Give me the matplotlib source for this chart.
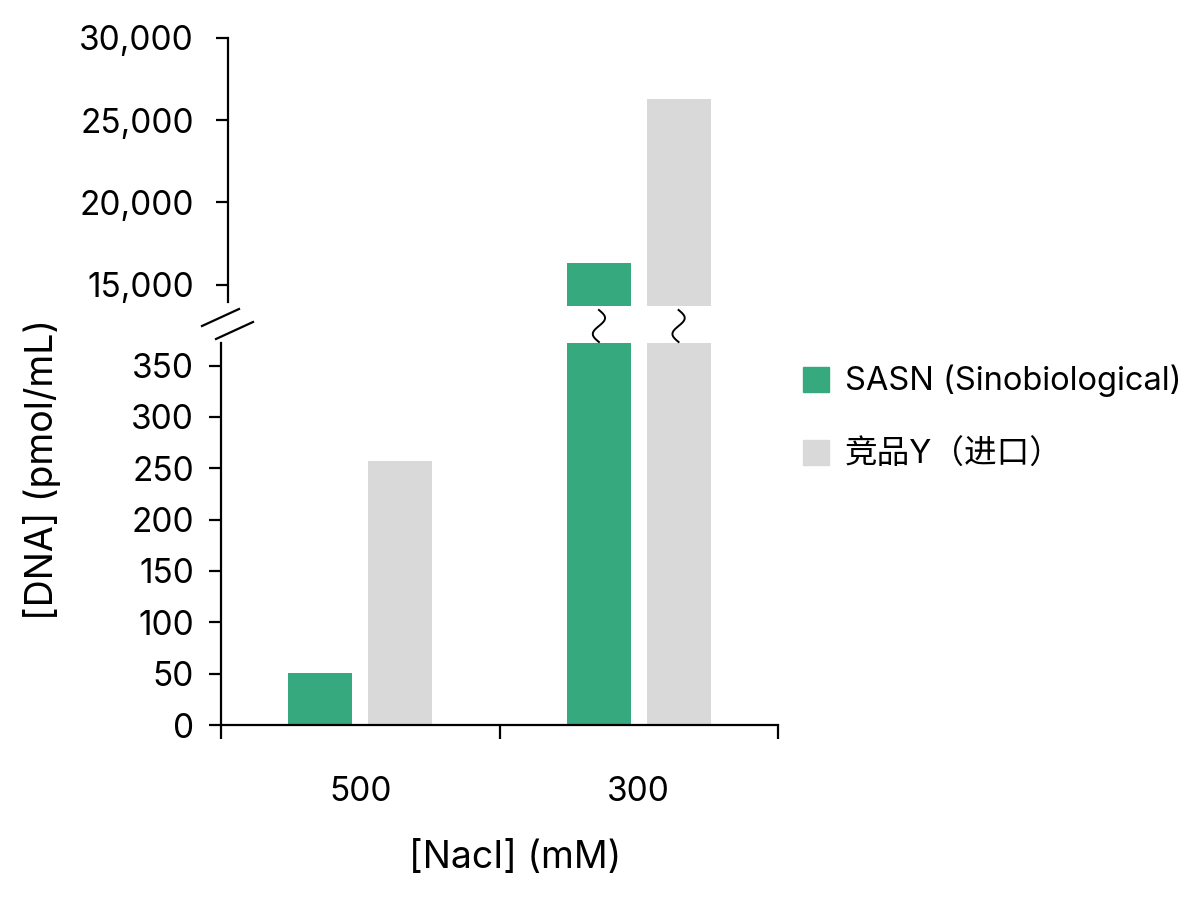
import numpy as np
import matplotlib.pyplot as plt
from matplotlib.lines import Line2D
from matplotlib.patches import Patch
import matplotlib.transforms as mtransforms
from matplotlib.ticker import FuncFormatter

plt.rcParams['font.family'] = ['Inter', 'Noto Sans CJK SC', 'DejaVu Sans']

# data
groups = ['500', '300']
series = ['SASN (Sinobiological)', '竞品Y（进口）']
sasn = [51, 16300]
rival = [257, 26300]
colors = ['#36AA7E', '#D9D9D9']

W, H = 1200, 906
fig = plt.figure(figsize=(12, 9.06), dpi=100)

def box(l, t, r, b):
    return [l / W, 1 - b / H, (r - l) / W, (b - t) / H]

lo = fig.add_axes(box(221, 343, 778, 725))
hi = fig.add_axes(box(228, 38, 778, 306))

centers = np.array([0.5, 1.5])
off = 0.143
bw = 0.23
fs = 24
for ax in (lo, hi):
    ax.bar(centers - off, sasn, bw, color=colors[0])
    ax.bar(centers + off, rival, bw, color=colors[1])
    for s in ['top', 'right']:
        ax.spines[s].set_visible(False)
    ax.spines['left'].set_linewidth(1.6)
    ax.tick_params(axis='y', labelsize=fs, length=8.5, width=1.6)

lo.set_xlim(0, 2)
lo.set_ylim(0, 372)
lo.set_yticks(np.arange(0, 351, 50))
lo.tick_params(axis='y', pad=11)
lo.spines['bottom'].set_linewidth(1.6)
lo.set_xticks([0, 1, 2])
lo.set_xticklabels([])
lo.tick_params(axis='x', which='major', length=10, width=1.6)
lo.set_xticks(centers, minor=True)
lo.set_xticklabels(groups, minor=True)
lo.tick_params(axis='x', which='minor', length=0, pad=37, labelsize=fs)
lo.set_xlabel('[NacI] (mM)', fontsize=27)
lo.xaxis.set_label_coords(0.528, -0.3)

hi.set_xlim(0.0251, 2)
hi.set_ylim(13700, 30000)
hi.set_yticks([15000, 20000, 25000, 30000])
hi.yaxis.set_major_formatter(FuncFormatter(lambda v, p: f'{int(v):,}'))
hi.tick_params(axis='y', pad=16)
hi.spines['left'].set_bounds(13950, 30000)
hi.spines['bottom'].set_visible(False)
hi.set_xticks([])
hi.patch.set_alpha(0)

fig.text(42 / W, 1 - 469 / H, '[DNA] (pmol/mL)', rotation=90, fontsize=27,
         ha='center', va='center')

# break marks on the axis
for (x0, y0, x1, y1) in [(202, 326, 239, 309), (216, 339, 253, 322)]:
    fig.add_artist(Line2D([x0 / W, x1 / W], [1 - y0 / H, 1 - y1 / H],
                          color='black', lw=1.6, transform=fig.transFigure))

# wavy marks between split bars
trans = mtransforms.blended_transform_factory(lo.transData, fig.transFigure)
t = np.linspace(0, 1, 60)
for xc in [centers[1] - off, centers[1] + off]:
    xs = xc + 0.022 * np.sin(2 * np.pi * t)
    ys = 1 - (310 + 32 * t) / H
    fig.add_artist(Line2D(xs, ys, color='black', lw=1.4, transform=trans))

handles = [Patch(color=c) for c in colors]
fig.legend(handles, series, loc='center left',
           bbox_to_anchor=(803 / W, 1 - 418 / H), frameon=False,
           fontsize=23.5, handlelength=0.8, handleheight=0.8,
           handletextpad=0.48, labelspacing=1.3, borderpad=0,
           borderaxespad=0)

fig.savefig('out.png', dpi=100)
